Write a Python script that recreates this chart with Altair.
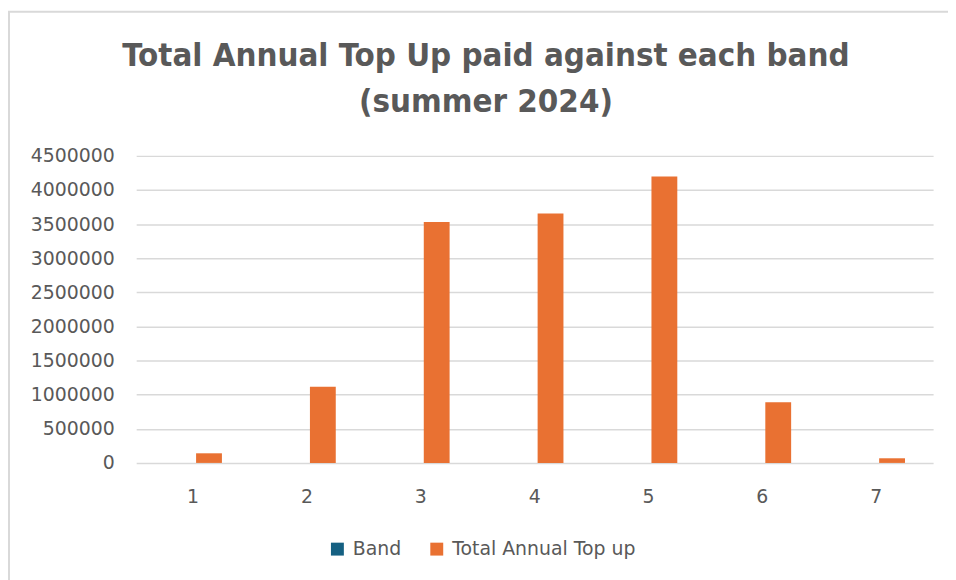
import altair as alt
import pandas as pd

bands = ["1", "2", "3", "4", "5", "6", "7"]
band_values = [1, 2, 3, 4, 5, 6, 7]
top_up_values = [141000, 1117000, 3530000, 3655000, 4199000, 888000, 68000]
series_names = ["Band", "Total Annual Top up"]
series_colors = ["#156082", "#E97132"]
y_ticks = [0, 500000, 1000000, 1500000, 2000000, 2500000, 3000000, 3500000, 4000000, 4500000]
title_lines = ["Total Annual Top Up paid against each band", "(summer 2024)"]

rows = []
for b, bv, tv in zip(bands, band_values, top_up_values):
    rows.append({"band": b, "series": series_names[0], "value": bv})
    rows.append({"band": b, "series": series_names[1], "value": tv})
df = pd.DataFrame(rows)

TEXT = "#595959"
GRID = "#d9d9d9"
LABEL_FONT = "DejaVu Sans"

bars = alt.Chart(df).mark_bar().encode(
    x=alt.X(
        "band:N", sort=bands, title=None,
        scale=alt.Scale(paddingInner=0.4938, paddingOuter=0.2469),
        axis=alt.Axis(labelAngle=0, labelPadding=25, grid=False, ticks=False, domain=False),
    ),
    xOffset=alt.XOffset("series:N", sort=series_names,
                        scale=alt.Scale(domain=series_names, paddingInner=0.1875, paddingOuter=0)),
    y=alt.Y(
        "value:Q", title=None,
        scale=alt.Scale(domain=[0, 4500000], nice=False),
        axis=alt.Axis(values=y_ticks, format="d", labelPadding=22, ticks=False, domain=False,
                      grid=True, gridColor=GRID, gridWidth=1.5),
    ),
    color=alt.Color(
        "series:N", title=None,
        scale=alt.Scale(domain=series_names, range=series_colors),
        legend=alt.Legend(orient="none", direction="horizontal", legendX=193, legendY=386,
                          symbolType="square", symbolSize=169, symbolStrokeWidth=0,
                          labelFont=LABEL_FONT, labelFontSize=19, labelColor=TEXT,
                          labelOffset=6, columnPadding=26, labelLimit=400),
    ),
)

frame = alt.Chart(pd.DataFrame({"k": [0]})).mark_rect(
    fill="transparent", stroke=GRID, strokeWidth=2
).encode(
    x=alt.value(-128), x2=alt.value(830), y=alt.value(-145), y2=alt.value(440)
)

chart = alt.layer(frame, bars).properties(
    width=802, height=309,
    autosize=alt.AutoSizeParams(type="none"),
    padding={"left": 129, "top": 147, "right": 15, "bottom": 116},
    title=alt.TitleParams(
        text=title_lines, anchor="middle", dx=-49, offset=-109,
        font="DejaVu Sans Condensed", fontSize=33, fontWeight="bold",
        color=TEXT, lineHeight=46,
    ),
).configure_view(strokeWidth=0).configure_axis(
    labelFont=LABEL_FONT, labelFontSize=19, labelColor=TEXT
)

chart.save("out.html", embed_options={"renderer": "svg", "actions": False})
